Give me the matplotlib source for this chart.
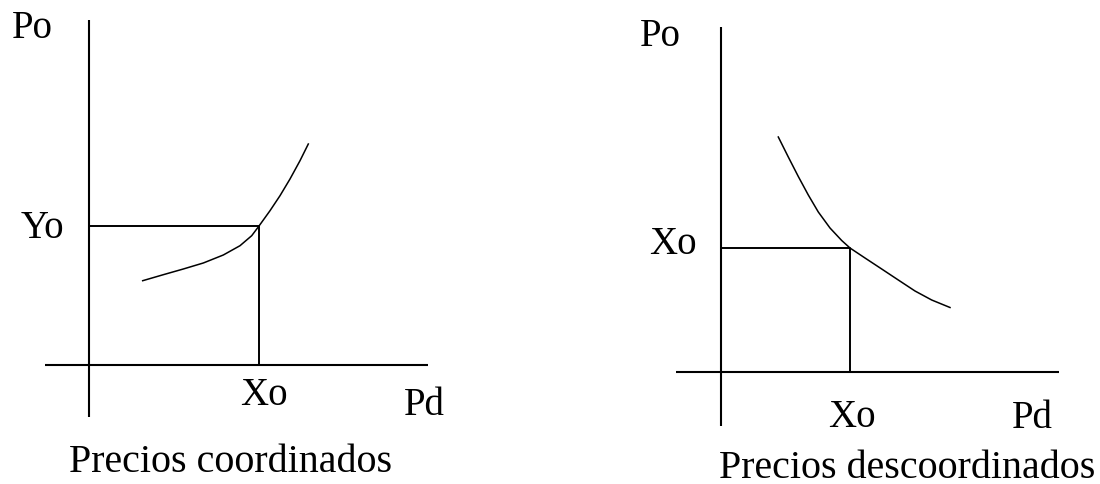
import matplotlib
matplotlib.use("Agg")
import matplotlib.pyplot as plt

# curva creciente (precios coordinados)
coord_x = [5.37, 7.43, 9.43, 11.43, 13.43, 15.1, 16.27, 17.0, 18.1, 19.1, 20.1, 21.1, 21.93]
coord_y = [8.43, 9.03, 9.6, 10.2, 11.0, 11.93, 12.93, 13.9, 15.43, 16.93, 18.6, 20.43, 22.1]
coord_xo, coord_yo = 17.0, 13.9

# curva decreciente (precios descoordinados)
desc_x = [5.73, 6.73, 7.73, 8.73, 9.73, 10.9, 12.07, 12.9, 14.4, 16.07, 17.73, 19.4, 21.07, 22.9]
desc_y = [23.5, 21.5, 19.55, 17.7, 16.0, 14.4, 13.15, 12.4, 11.4, 10.3, 9.2, 8.1, 7.2, 6.45]
desc_xo, desc_yo = 12.9, 12.4

plt.rcParams['font.family'] = ['Liberation Serif', 'DejaVu Serif']
FS = 28
FS_TITLE = 28.8

fig = plt.figure(figsize=(11, 4.85), dpi=100)


def panel(rect, xlim, ylim, xs, ys, xo, yo, xaxis, yaxis):
    ax = fig.add_axes(rect)
    ax.set_xlim(*xlim)
    ax.set_ylim(*ylim)
    ax.axis('off')
    ax.plot(xaxis, [0, 0], color='black', lw=1.5, solid_capstyle='butt')
    ax.plot([0, 0], yaxis, color='black', lw=1.5, solid_capstyle='butt')
    ax.plot([0, xo, xo], [yo, yo, 0], color='black', lw=1.4)
    ax.plot(xs, ys, color='black', lw=1.1, solid_joinstyle='round')
    return ax


left = panel([0, 0, 0.5, 1], (-8.9, 46.1), (-11.9, 36.6),
             coord_x, coord_y, coord_xo, coord_yo, [-4.4, 33.9], [-5.2, 34.5])
left.text(-5.7, 32.8, 'Po', fontsize=FS, ha='center', va='baseline')
left.text(-4.7, 12.8, 'Yo', fontsize=FS, ha='center', va='baseline')
left.text(17.5, -3.9, 'Xo', fontsize=FS, ha='center', va='baseline')
left.text(33.5, -4.9, 'Pd', fontsize=FS, ha='center', va='baseline')
left.text(14.2, -10.6, 'Precios coordinados', fontsize=FS_TITLE, ha='center', va='baseline')

right = panel([0.5, 0, 0.5, 1], (-17.1, 37.9), (-11.2, 37.3),
              desc_x, desc_y, desc_xo, desc_yo, [-4.5, 33.8], [-5.4, 34.5])
right.text(-6.1, 32.7, 'Po', fontsize=FS, ha='center', va='baseline')
right.text(-4.8, 11.9, 'Xo', fontsize=FS, ha='center', va='baseline')
right.text(13.1, -5.4, 'Xo', fontsize=FS, ha='center', va='baseline')
right.text(31.1, -5.5, 'Pd', fontsize=FS, ha='center', va='baseline')
right.text(18.6, -10.5, 'Precios descoordinados', fontsize=FS_TITLE, ha='center', va='baseline')

fig.savefig('out.png', dpi=100, facecolor='white')
